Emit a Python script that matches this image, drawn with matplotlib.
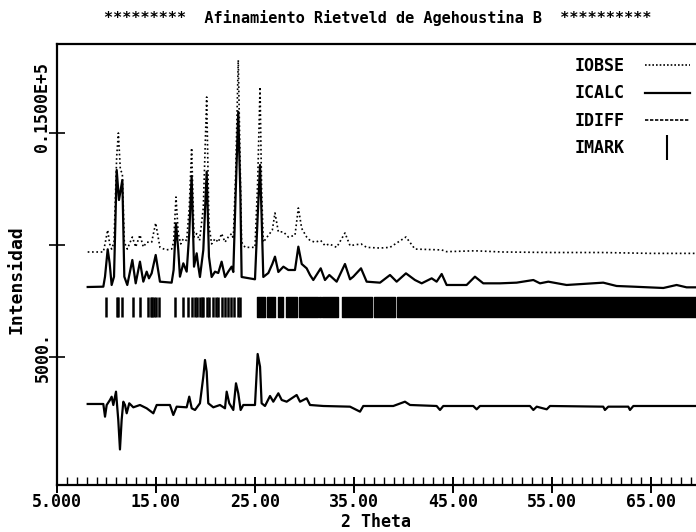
import matplotlib
matplotlib.use("Agg")
import matplotlib.pyplot as plt
from matplotlib.lines import Line2D

# observed pattern (2 theta, intensity)
obs_tt = [8.1, 9.68, 9.85, 10.12, 10.32, 10.52, 10.76, 11.03, 11.2, 11.4,
          11.6, 11.8, 12.1, 12.61, 12.95, 13.38, 13.72, 14.06, 14.56, 14.97,
          15.4, 16.0, 16.58, 16.78, 17.02, 17.25, 17.5, 17.76, 18.10, 18.36,
          18.60, 18.84, 19.11, 19.4, 19.78, 20.12, 20.35, 20.62, 20.96, 21.29,
          21.63, 21.97, 22.30, 22.64, 22.81, 23.05, 23.31, 23.52, 23.65, 24.0,
          25.0, 25.27, 25.51, 25.67, 25.84, 26.35, 26.75, 27.02, 27.36, 27.87,
          28.37, 29.04, 29.38, 29.72, 30.22, 30.56, 31.06, 31.64, 32.07, 32.51,
          33.25, 34.09, 34.6, 35.71, 36.28, 37.63, 38.64, 40.25, 41.16, 43.86,
          44.36, 47.22, 50.0, 55.0, 60.0, 65.0, 69.55]
obs_int = [9688, 9688, 10048, 10670, 10048, 9818, 10125, 13964, 15000, 13350,
           13196, 10125, 9818, 10356, 9910, 10448, 9910, 10125, 10125, 10982,
           9895, 9780, 9818, 10125, 12143, 10509, 10048, 10279, 10202, 11661,
           14330, 10356, 10509, 10202, 11661, 16607, 10893, 10048, 10279, 10125,
           10509, 10125, 10356, 10509, 10279, 13196, 18258, 13196, 10125, 9895,
           9895, 12813, 17053, 12429, 10125, 10432, 10663, 11430, 10586, 10586,
           10356, 10432, 11652, 10739, 10356, 10202, 10125, 10202, 9972, 10048,
           9895, 10536, 9972, 10048, 9895, 9864, 9895, 10357, 9818, 9780,
           9703, 9741, 9688, 9665, 9665, 9626, 9626]

# calculated pattern
calc_tt = [8.1, 9.68, 9.85, 10.12, 10.32, 10.52, 10.76, 11.03, 11.26, 11.60,
           11.80, 12.10, 12.61, 12.95, 13.38, 13.72, 14.06, 14.29, 14.56, 14.97,
           15.40, 16.58, 16.78, 17.02, 17.25, 17.42, 17.76, 18.10, 18.36, 18.60,
           18.84, 19.11, 19.25, 19.44, 19.78, 20.12, 20.35, 20.62, 20.96, 21.29,
           21.63, 21.97, 22.30, 22.64, 22.81, 23.05, 23.31, 23.52, 23.65, 25.0,
           25.27, 25.51, 25.67, 25.84, 26.35, 26.75, 27.02, 27.36, 27.87, 28.37,
           29.04, 29.38, 29.72, 30.22, 30.56, 30.89, 31.64, 32.07, 32.51, 33.25,
           34.09, 34.60, 34.93, 35.71, 36.28, 37.63, 38.64, 39.31, 40.25, 41.16,
           41.84, 42.85, 43.35, 43.86, 44.36, 46.38, 47.22, 48.06, 49.75, 51.43,
           53.12, 53.79, 54.63, 56.48, 60.18, 61.53, 63.22, 66.25, 67.59, 68.60,
           69.55]
calc_int = [8125, 8140, 8586, 9808, 9183, 8215, 8586, 13348, 12009, 12902,
            8586, 8215, 9331, 8289, 9256, 8363, 8810, 8512, 8735, 9554,
            8363, 8319, 8884, 10969, 9777, 8586, 9183, 8810, 10522, 13080,
            9033, 9629, 9127, 8572, 9777, 13273, 9480, 8572, 8810, 8750,
            9256, 8572, 8810, 9033, 8795, 12308, 15951, 12308, 8572, 8469,
            11264, 13571, 11264, 8572, 8750, 9152, 9480, 8795, 9033, 8884,
            8884, 9926, 9152, 8959, 8661, 8437, 8959, 8437, 8661, 8363,
            9152, 8469, 8586, 8959, 8363, 8319, 8661, 8363, 8735, 8437,
            8289, 8512, 8363, 8706, 8215, 8215, 8586, 8289, 8289, 8319,
            8437, 8289, 8363, 8215, 8319, 8170, 8140, 8081, 8215, 8110,
            8110]

# difference curve (plotted with an offset)
diff_tt = [8.1, 9.68, 9.85, 10.02, 10.35, 10.52, 10.69, 10.96, 11.19, 11.36,
           11.53, 11.70, 11.87, 12.04, 12.30, 12.71, 13.38, 14.06, 14.73, 15.07,
           16.41, 16.75, 17.09, 18.10, 18.36, 18.61, 18.94, 19.44, 19.78, 19.95,
           20.12, 20.28, 20.79, 21.46, 21.97, 22.14, 22.40, 22.81, 23.08, 23.31,
           23.55, 23.82, 25.0, 25.27, 25.51, 25.67, 26.01, 26.52, 26.85, 27.36,
           27.70, 28.20, 29.21, 29.55, 30.22, 30.56, 31.90, 34.6, 35.61, 35.94,
           38.97, 40.15, 40.66, 43.35, 43.69, 44.02, 47.05, 47.39, 47.73, 52.78,
           53.12, 53.46, 54.47, 54.80, 60.18, 60.35, 60.69, 62.71, 62.88, 63.22,
           69.55]
diff_int = [2903, 2903, 2336, 2858, 3081, 3227, 2858, 3453, 2188, 873,
            2188, 3005, 2858, 2487, 2934, 2754, 2858, 2710, 2487, 2858,
            2858, 2411, 2783, 2754, 3231, 2710, 2635, 2934, 4123, 4867,
            4345, 2934, 2754, 2858, 2710, 3453, 2934, 2635, 3826, 3380,
            2635, 2858, 2858, 5135, 4568, 2934, 2813, 3260, 3005, 3380,
            3081, 3005, 3304, 3005, 3157, 2858, 2813, 2783, 2560, 2813,
            2813, 3005, 2858, 2813, 2635, 2813, 2813, 2665, 2813, 2813,
            2635, 2783, 2665, 2813, 2783, 2635, 2783, 2783, 2635, 2813,
            2813]

# reflection markers
mark_tt = [10.0, 11.03, 11.2, 11.53, 12.64, 13.38, 14.2, 14.45, 14.6, 14.8,
           15.0, 15.3, 16.92, 17.76, 18.27, 18.6, 18.94, 19.1, 19.44, 19.68,
           19.78, 20.12, 20.35, 20.79, 21.03, 21.29, 21.63, 21.97, 22.3, 22.58,
           22.9, 23.25, 23.48]
# ranges where the markers merge into a solid block
mark_bands = [(25.2, 26.0), (26.2, 27.0), (27.3, 27.85), (28.15, 29.2),
              (29.4, 31.35), (31.45, 31.65), (31.8, 33.4), (33.8, 36.8),
              (37.0, 39.1), (39.3, 69.6)]
mark_lo, mark_hi = 6785, 7670

xticks = [5, 15, 25, 35, 45, 55, 65]
xticklabels = ["5.000", "15.00", "25.00", "35.00", "45.00", "55.00", "65.00"]
yticks = [5000, 10000, 15000]
yticklabels = ["5000.", "", "     0.1500E+5"]

mono = "DejaVu Sans Mono"

fig = plt.figure(figsize=(6.96, 5.32), dpi=100)
ax = fig.add_axes([57 / 696, 1 - 485 / 532, 1 - 57 / 696, (485 - 44) / 532])

ax.plot(obs_tt, obs_int, color="black", lw=1.2, linestyle=(0, (1, 1.6)))
ax.plot(calc_tt, calc_int, color="black", lw=1.6)
ax.plot(diff_tt, diff_int, color="black", lw=1.6)
ax.vlines(mark_tt, mark_lo, mark_hi, color="black", lw=1.8)
ax.broken_barh([(a, b - a) for a, b in mark_bands], (mark_lo, mark_hi - mark_lo),
               color="black")

ax.set_xlim(5, 69.55)
ax.set_ylim(-714, 18973)

ax.spines["right"].set_visible(False)
for s in ["left", "top", "bottom"]:
    ax.spines[s].set_linewidth(1.6)

ax.set_xticks(xticks)
ax.set_xticklabels(xticklabels, fontfamily=mono, fontweight="bold", fontsize=12)
ax.set_xticks(range(5, 70), minor=True)
ax.tick_params(axis="x", which="major", direction="inout", length=12, width=1.4, pad=0)
ax.tick_params(axis="x", which="minor", direction="in", length=6, width=1.0)
ax.set_yticks(yticks)
ax.set_yticklabels(yticklabels, fontfamily=mono, fontweight="bold", fontsize=12,
                   rotation=90, va="center", ha="center")
ax.tick_params(axis="y", direction="inout", length=12, width=1.2, pad=4)

fig.text(378 / 696, 1 - 18 / 532, "*********  Afinamiento Rietveld de Agehoustina B  **********",
         ha="center", va="center", fontfamily=mono, fontweight="bold", fontsize=11)
fig.text(376 / 696, 1 - 522 / 532, "2 Theta", ha="center", va="center",
         fontfamily=mono, fontweight="bold", fontsize=12)
fig.text(17 / 696, 1 - 280 / 532, "Intensidad", ha="center", va="center", rotation=90,
         fontfamily=mono, fontweight="bold", fontsize=13)

handles = [Line2D([], [], color="black", lw=1.2, linestyle=(0, (1, 1.2))),
           Line2D([], [], color="black", lw=1.6),
           Line2D([], [], color="black", lw=1.2, linestyle=(0, (2, 1))),
           Line2D([], [], color="black", marker="|", markersize=18, mew=1.5, linestyle="none")]
ax.legend(handles, ["IOBSE", "ICALC", "IDIFF", "IMARK"], loc="upper right",
          bbox_to_anchor=(0.99, 0.97), frameon=False, markerfirst=False,
          handlelength=2.7, handletextpad=1.2, labelspacing=0.55, numpoints=1,
          borderpad=0, borderaxespad=0,
          prop={"family": mono, "weight": "bold", "size": 12})

fig.savefig("out.png", dpi=100)
